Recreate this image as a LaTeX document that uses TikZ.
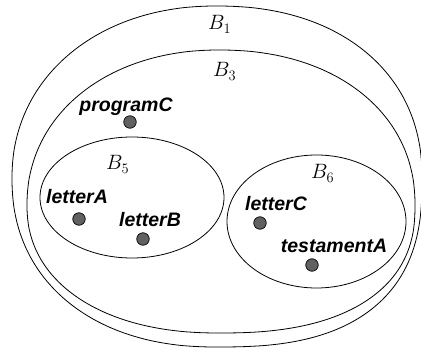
\documentclass[tikz,border=0pt]{standalone}
\usepackage{fontspec}
\newfontfamily\labelfont{Liberation Sans}
\usetikzlibrary{shapes.geometric}
\tikzset{
  setline/.style={draw, line width=0.8pt},
  setb/.style={draw, ellipse, line width=0.8pt, inner sep=0pt},
  elem/.style={draw, circle, fill=black!62, line width=0.7pt, minimum size=12.5pt, inner sep=0pt},
  elab/.style={anchor=base, inner sep=0pt, font=\labelfont\bfseries\itshape\fontsize{19.5}{22}\selectfont},
  blab/.style={anchor=base west, inner sep=0pt, font=\fontsize{20}{24}\selectfont},
  qd/.style={domain=0:90, samples=60, variable=\t}
}
% rounded oval made of four super-elliptic quarters
% #1 cx, #2 cy, #3 aL, #4 aR, #5 bT, #6 bB, #7 pTR, #8 pTL, #9 pBL ; \pBR set before
\newcommand\ovalset[9]{%
  \draw[setline]
    plot[qd] ({#1+#4*pow(max(cos(\t),0.0001),#7)}, {#2-#5*pow(max(sin(\t),0.0001),#7)})
    -- plot[qd] ({#1-#3*pow(max(sin(\t),0.0001),#8)}, {#2-#5*pow(max(cos(\t),0.0001),#8)})
    -- plot[qd] ({#1-#3*pow(max(cos(\t),0.0001),#9)}, {#2+#6*pow(max(sin(\t),0.0001),#9)})
    -- plot[qd] ({#1+#4*pow(max(sin(\t),0.0001),\pBR)}, {#2+#6*pow(max(cos(\t),0.0001),\pBR)})
    -- cycle;}
\begin{document}
\begin{tikzpicture}[x=1pt, y=-1pt]
\useasboundingbox (0,0) rectangle (421,350);
% B1 outer set
\def\pBR{0.77}
\ovalset{216}{178}{204}{206}{172}{169}{0.91}{0.95}{0.91}
% B3 set
\def\pBR{0.83}
\ovalset{219}{205}{192}{196}{155}{128}{0.93}{0.95}{0.91}
\node[setb, minimum width=184pt, minimum height=121pt] (B5) at (132,197.5) {};
\node[setb, minimum width=179pt, minimum height=133pt] (B6) at (316.5,221.5) {};
\node[blab] (l1) at (208,30) {$B_1$};
\node[blab] (l3) at (213,77) {$B_3$};
\node[blab] (l5) at (106,170) {$B_5$};
\node[blab] (l6) at (311,179) {$B_6$};
\node[elem] (pC) at (130,122) {};
\node[elem] (lA) at (79,219) {};
\node[elem] (lB) at (143,239) {};
\node[elem] (lC) at (260,223) {};
\node[elem] (tA) at (312,265) {};
\node[elab] (tpC) at (126,112) {programC};
\node[elab] (tlA) at (77,204) {letterA};
\node[elab] (tlB) at (150,227) {letterB};
\node[elab] (tlC) at (276,211) {letterC};
\node[elab] (ttA) at (334,253) {testamentA};
\end{tikzpicture}
\end{document}
